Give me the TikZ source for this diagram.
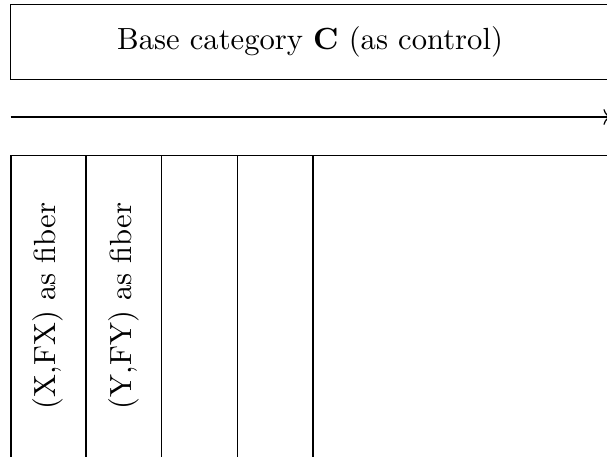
\documentclass[tikz,border=0pt]{standalone}
\usetikzlibrary{arrows.meta}
\begin{document}
\begin{tikzpicture}[x=0.3268pt,y=-0.3268pt, line width=0.4pt,
  basebox/.style={draw, minimum width=195.7pt, minimum height=24.5pt, inner sep=0pt},
  fiberframe/.style={draw, anchor=north west, minimum width=240pt, minimum height=110pt, inner sep=0pt},
  fibercol/.style={draw, anchor=north, minimum width=24.7pt, minimum height=105pt, inner sep=0pt},
  fibertext/.style={rotate=90, inner sep=0pt}]
\useasboundingbox (0,0) rectangle (607,456);
\clip (0,0) rectangle (607,456);
\node[basebox] (base) at (310,41.8) {Base category $\mathbf{C}$ (as control)};
\coordinate (arrowstart) at (10.5,117);
\coordinate (arrowend) at (611,117);
\draw[->] (arrowstart) -- (arrowend);
\node[fiberframe] (frame) at (10.5,155) {};
\node[fibercol] (c1) at (48.3,155) {};
\node[fibercol] (c2) at (123.9,155) {};
\node[fibercol] (c3) at (199.5,155) {};
\node[fibercol] (c4) at (275.1,155) {};
\node[fibertext] (t1) at (48.3,306) {(X,FX) as fiber};
\node[fibertext] (t2) at (123.9,306) {(Y,FY) as fiber};
\end{tikzpicture}
\end{document}
